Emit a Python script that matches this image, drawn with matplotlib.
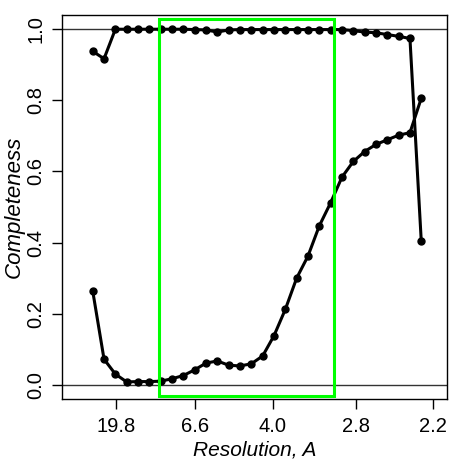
import numpy as np
import matplotlib
matplotlib.use('Agg')
import matplotlib.pyplot as plt
from matplotlib.patches import Rectangle

plt.rcParams['font.family'] = ['Liberation Sans', 'DejaVu Sans']

# completeness per resolution bin (bin index along x)
completeness_low = [0.938, 0.917, 1.0, 1.0, 1.0, 1.0, 1.0, 1.0, 1.0, 0.999,
                    0.998, 0.992, 0.998, 0.999, 0.999, 0.999, 0.999, 0.999, 0.999, 0.999,
                    0.999, 0.999, 0.999, 0.996, 0.992, 0.990, 0.985, 0.980, 0.974, 0.403]
completeness_high = [0.264, 0.072, 0.030, 0.008, 0.009, 0.009, 0.010, 0.017, 0.026, 0.042,
                     0.061, 0.067, 0.055, 0.053, 0.059, 0.081, 0.138, 0.212, 0.300, 0.362,
                     0.447, 0.512, 0.584, 0.628, 0.656, 0.676, 0.689, 0.702, 0.709, 0.806]
bins = np.arange(len(completeness_low))

# resolution labels and where they fall on the bin axis
res_labels = ['19.8', '6.6', '4.0', '2.8', '2.2']
res_pos = [2.06, 9.03, 15.9, 23.2, 30.0]

# selected bin range (green box)
sel_start, sel_end = 5.88, 21.3

fig = plt.figure(figsize=(4.54, 4.66), dpi=100)
ax = fig.add_axes([62 / 454, 1 - 399 / 466, 385 / 454, 384 / 466])

ax.axhline(0, color='#333333', lw=1.0, zorder=1)
ax.axhline(1, color='#333333', lw=1.0, zorder=1)

for series in (completeness_low, completeness_high):
    ax.plot(bins, series, color='black', lw=2.2, marker='o', ms=5, zorder=3)

ax.add_patch(Rectangle((sel_start, -0.031), sel_end - sel_start, 1.061,
                       fill=False, edgecolor='#00ff00', lw=2.2, zorder=4))

ax.set_xlim(-2.71, 31.27)
ax.set_ylim(-0.04, 1.04)
ax.set_xticks(res_pos)
ax.set_xticklabels(res_labels)
ax.set_yticks([0, 0.2, 0.4, 0.6, 0.8, 1.0])
ax.set_yticklabels(['0.0', '0.2', '0.4', '0.6', '0.8', '1.0'], rotation=90, va='center')
ax.tick_params(direction='out', length=7, width=1, labelsize=14.5, pad=6)
ax.tick_params(axis='y', pad=5)
for s in ax.spines.values():
    s.set_linewidth(1.0)

ax.set_xlabel('Resolution, A', fontsize=15, style='italic', labelpad=3)
ax.set_ylabel('Completeness', fontsize=16, style='italic', labelpad=1)

fig.savefig('out.png', dpi=100)
